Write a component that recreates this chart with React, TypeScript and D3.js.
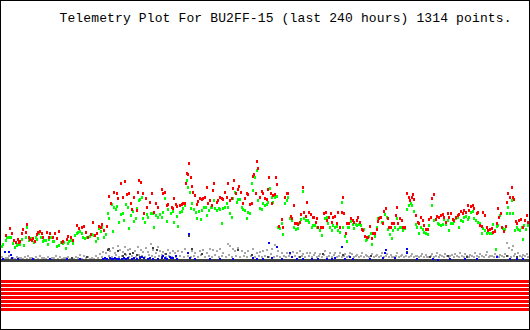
import React from "react";
import * as d3 from "d3";

const W = 530;
const H = 330;

const titleText = "Telemetry Plot For BU2FF-15 (last 240 hours) 1314 points.";

// time slot (0..530 across the 240 hours), value above baseline
const redSeries: [number, number][] = [
  [6,27],[10,34],[12,29],[14,22],[16,20],[18,23],[19,20],[20,21],[22,29],[23,33],[26,30],[27,38],[29,25],[30,23],[32,22],[33,24],[35,21],[37,28],[38,30],[40,31],[42,29],[43,25],[47,30],[49,25],[50,29],[53,25],[55,29],[57,24],[59,31],[62,20],[63,21],[67,23],[68,26],[71,25],[73,22],[77,37],[79,34],[82,35],[84,36],[86,30],[88,25],[91,28],[93,40],[95,27],[97,29],[99,36],[101,35],[102,38],[104,32],[107,36],[109,66],[111,59],[114,70],[117,69],[118,64],[121,79],[123,65],[125,81],[127,68],[129,69],[131,59],[132,53],[134,65],[137,52],[138,70],[139,82],[141,80],[143,69],[144,49],[146,64],[147,55],[150,60],[152,69],[154,50],[156,59],[158,55],[162,73],[163,69],[165,70],[167,57],[168,58],
  [172,55],[173,54],[174,64],[176,58],[177,56],[180,57],[182,58],[183,59],[185,59],[186,79],[187,89],[188,88],[189,99],[191,85],[192,76],[193,70],[195,67],[197,58],[198,61],[200,64],[202,63],[203,64],[205,65],[207,75],[208,59],[210,62],[212,57],[213,72],[214,79],[217,60],[218,62],[220,65],[222,64],[223,63],[225,70],[227,65],[228,79],[230,62],[232,64],[233,74],[234,82],[236,69],[238,73],[239,76],[241,70],[243,59],[245,64],[247,69],[248,68],[250,58],[252,59],[253,86],[254,88],[256,69],[257,101],[258,94],[260,65],[262,71],[263,69],[265,64],[267,63],[268,73],[269,85],[271,69],[272,59],[273,67],[275,68],[276,85],[277,78],[279,36],[282,43],[283,35],[285,65],[287,69],[288,69],[291,46],[292,44],[294,57],[295,39],[297,39],[298,38],[300,40],[301,48],[303,75],[304,50],[306,46],[307,60],[309,50],[311,48],[313,45],[314,45],[316,40],[317,44],[318,35],[321,35],[323,35],[324,49],[326,50],[327,42],[329,45],[331,49],[332,40],[333,45],[335,46],[337,39],[338,50],[340,35],[342,50],[343,65],[344,49],[346,29],[347,39],[349,39],
  [351,44],[353,42],[354,40],[357,42],[358,45],[360,40],[362,33],[363,32],[365,26],[367,25],[368,25],[370,36],[372,24],[373,29],[375,29],[377,33],[378,41],[379,44],[381,45],[383,39],[384,51],[386,54],[388,44],[389,35],[391,35],[392,39],[394,39],[396,47],[397,55],[398,39],[400,44],[402,42],[403,35],[405,35],[407,69],[409,65],[410,62],[412,65],[413,68],[414,63],[416,47],[418,40],[419,39],[421,45],[423,42],[424,37],[426,33],[428,33],[429,43],[431,45],[432,64],[434,68],[436,43],[437,46],[439,45],[441,47],[443,48],[444,45],[446,40],[448,49],[449,45],[451,49],[453,43],[454,42],[456,45],[458,47],[459,48],[461,51],[463,49],[464,52],[466,50],[468,57],[469,52],[471,56],[473,57],[474,54],[477,49],[478,50],[480,37],[482,36],[483,50],[485,47],[487,35],[488,32],[490,33],[492,34],[493,30],[495,31],[497,39],[498,54],[499,45],[501,49],[502,35],[504,31],[506,36],[507,60],[508,69],[510,65],[512,75],[513,65],[514,63],[516,41],[517,39],[519,42],[521,43],[523,35],[525,42],[527,47],[528,40]
];

const greenSeries: [number, number][] = [
  [2,16],[3,18],[6,22],[7,25],[9,25],[11,25],[13,19],[15,15],[17,17],[18,18],[20,18],[22,23],[24,17],[26,25],[27,35],[29,22],[31,24],[33,24],[34,20],[36,25],[37,23],[39,29],[41,25],[43,21],[44,22],[46,22],[48,18],[49,23],[51,25],[53,21],[54,21],[57,16],[59,17],[61,20],[63,19],[64,20],[66,14],[68,19],[69,21],[71,22],[73,19],[75,27],[77,29],[78,30],[80,31],[82,29],[83,25],[85,24],[87,25],[88,25],[90,26],[92,28],[94,27],[96,21],[98,24],[99,34],[101,31],[102,35],[104,25],[106,28],[108,49],[109,44],[112,58],[113,31],[114,55],[116,53],[117,56],[119,40],[121,48],[123,49],[124,42],[126,58],[128,55],[129,34],[131,47],[133,51],[134,41],[136,44],[137,54],[139,62],[140,63],[142,65],[143,44],[145,40],[147,48],[148,45],[151,49],[153,49],[154,35],[156,47],[158,45],[160,48],[162,45],[163,50],[165,64],[167,41],[168,53],
  [171,49],[173,51],[174,40],[177,46],[178,36],[180,50],[182,51],[183,54],[185,57],[187,82],[188,75],[190,70],[191,54],[192,59],[194,53],[196,50],[197,44],[199,51],[201,43],[202,52],[204,55],[206,55],[207,47],[209,52],[211,55],[212,55],[214,62],[215,54],[217,52],[219,54],[220,53],[222,39],[223,54],[225,55],[227,59],[228,55],[230,49],[232,45],[233,64],[235,70],[237,60],[238,63],[240,63],[242,55],[243,53],[245,52],[247,44],[248,50],[250,49],[252,79],[253,72],[255,85],[257,92],[258,62],[260,54],[262,53],[263,59],[265,57],[267,58],[268,60],[270,74],[272,65],[273,60],[275,65],[277,66],[278,35],[280,34],[282,39],[283,28],[285,59],[287,62],[288,65],[290,44],[292,42],[294,35],[296,33],[298,34],[299,39],[301,43],[303,71],[304,44],[306,42],[308,42],[309,40],[312,35],[313,37],[315,37],[317,35],[318,35],[320,32],[322,27],[323,35],[325,44],[327,45],[328,39],[330,35],[332,32],[333,37],[335,35],[337,36],[338,32],[340,30],[342,60],[343,35],[345,26],[347,21],[348,35],[349,35],
  [351,41],[353,38],[354,34],[356,38],[357,37],[359,38],[361,37],[363,32],[364,33],[366,22],[367,23],[369,26],[371,29],[372,18],[373,29],[375,26],[377,35],[378,44],[380,45],[382,40],[383,40],[385,48],[387,45],[388,33],[390,28],[392,24],[393,32],[395,35],[397,44],[398,33],[400,35],[402,35],[403,32],[405,34],[407,53],[409,57],[411,59],[412,57],[414,51],[416,38],[417,35],[419,29],[421,35],[423,33],[424,30],[426,29],[428,28],[429,37],[431,45],[432,57],[434,42],[436,43],[438,39],[439,38],[441,37],[443,38],[444,43],[446,38],[448,42],[449,32],[451,39],[453,39],[454,41],[456,44],[458,45],[459,35],[461,42],[463,41],[464,45],[466,46],[468,43],[469,45],[471,50],[473,51],[474,44],[476,42],[478,40],[480,39],[482,29],[483,34],[485,32],[487,29],[488,30],[490,29],[492,29],[493,38],[495,32],[496,13],[497,36],[498,37],[500,47],[502,35],[503,34],[505,33],[507,49],[508,55],[510,49],[512,62],[513,49],[515,32],[517,35],[518,33],[520,32],[522,35],[523,23],[524,37],[526,33],[528,37]
];

const graySeries: [number, number][] = [
  [2,5],[6,4],[9,6],[13,4],[17,5],[21,4],[25,5],[28,6],[32,4],[36,5],[40,6],[44,4],[48,5],[52,4],[56,6],[60,5],[64,4],[68,5],[72,4],[76,5],[80,7],[84,6],[88,5],[92,4],[96,6],[100,8],[103,10],[106,9],[108,13],[110,11],[113,14],[115,9],[118,16],[120,12],[123,10],[125,15],[128,12],[130,13],[133,9],[135,11],[138,15],[141,12],[143,10],[146,14],[148,10],[151,18],[153,12],[156,9],[158,15],[160,11],[163,10],[165,8],[168,12],[170,9],[173,11],
  [175,9],[178,11],[182,10],[185,13],[192,11],[195,9],[200,11],[203,12],[207,9],[210,13],[213,12],[217,11],[220,13],[223,9],[228,18],[230,16],[233,13],[235,11],[238,14],[242,11],[245,9],[248,11],[253,13],[257,9],[260,10],[263,11],[267,12],[272,13],[275,17],[278,11],[282,9],[287,9],[290,8],[293,10],[297,9],[300,11],[303,8],[307,9],[310,9],[315,9],[320,8],[325,11],[330,9],[335,9],[340,9],[345,8],[350,9],
  [352,8],[357,7],[362,9],[367,6],[372,8],[377,7],[382,9],[387,8],[392,5],[397,9],[402,7],[407,9],[412,8],[417,6],[422,8],[427,5],[432,8],[437,9],[440,7],[445,8],[450,6],[455,8],[460,9],[465,8],[470,7],[475,9],[480,8],[487,10],[490,6],[495,8],[500,7],[505,8],[507,19],[509,14],[512,12],[513,16],[515,8],[518,9],[523,7],[527,8]
];

// lower gray readings hugging the baseline
const grayLowSeries: [number, number][] = [
  [4,3],[8,4],[11,3],[15,3],[19,4],[23,3],[27,3],[30,4],[34,3],[38,3],[42,4],[46,3],[50,3],[54,4],[58,3],[62,3],[66,4],[70,3],[74,3],[78,4],[82,3],[86,4],[90,3],[94,3],[98,4],[102,5],[105,4],[109,6],[112,5],[116,7],[119,5],[122,6],[126,7],[129,5],[132,6],[136,5],[139,7],[142,6],[145,5],[149,7],[152,6],[155,5],[159,6],[162,7],[166,5],[169,6],[172,5],
  [176,5],[180,6],[184,5],[188,6],[191,5],[194,6],[198,5],[201,7],[205,5],[209,6],[212,5],[215,7],[219,5],[222,6],[226,5],[229,7],[232,5],[236,6],[240,5],[244,6],[247,5],[251,6],[255,5],[259,6],[262,5],[265,6],[269,5],[271,8],[274,5],[277,6],[280,5],[284,6],[286,5],[289,6],[292,5],[295,6],[299,5],[302,6],[305,5],[309,6],[312,5],[314,7],[317,5],[319,6],[322,5],[324,7],[327,5],[329,6],[332,5],[334,7],[337,5],[339,6],[342,5],[344,6],[347,5],[349,6],
  [354,5],[356,6],[359,5],[361,6],[364,5],[366,7],[369,5],[371,6],[374,5],[376,6],[379,5],[381,6],[384,5],[386,6],[389,5],[391,7],[394,5],[396,6],[399,5],[401,6],[404,5],[406,6],[409,5],[411,6],[414,5],[416,6],[419,5],[421,6],[424,5],[426,7],[429,5],[431,6],[434,5],[436,6],[439,5],[442,6],[444,5],[447,6],[449,5],[452,7],[454,5],[457,6],[459,5],[462,6],[464,5],[467,6],[469,5],[472,6],[474,5],[477,6],[479,5],[482,6],[484,5],[486,7],[489,5],[492,6],[494,5],[497,6],[499,5],[502,6],[504,5],[508,6],[511,5],[514,6],[517,5],[520,6],[522,5],[525,6],[528,5]
];

const darkSeries: [number, number][] = [
  [72,4],[87,5],[108,12],[109,13],[118,11],[123,6],[125,8],[130,8],[133,9],[137,7],[140,5],[153,14],[157,12],[162,5],[166,8],
  [189,26],[192,13],[202,8],[238,12],[252,7],[268,5],[300,5],[323,8],[343,7],
  [371,6],[407,10],[430,5],[448,6],[467,5],[507,6],[517,5]
];

const blueSeries: [number, number][] = [
  [3,3],[5,10],[9,10],[11,7],[12,4],[18,3],[33,3],[50,3],[67,3],[80,3],[103,3],[105,4],[107,3],[110,4],[112,3],[113,3],[115,4],[117,3],[119,3],[122,3],[124,4],[126,3],[128,4],[132,3],[134,4],[137,3],[140,4],[142,5],[144,4],[148,3],[150,4],[153,3],[158,3],[162,4],[163,6],[165,4],[167,3],[170,5],[171,4],[173,4],[176,6],
  [177,3],[188,9],[189,28],[190,4],[195,3],[210,3],[220,3],[233,3],[253,4],[257,3],[263,3],[269,19],[272,4],[277,15],[282,3],[290,9],[292,5],[297,3],[303,3],[312,3],[318,3],[327,3],[332,3],[335,4],[342,15],[345,3],[350,5],
  [353,3],[370,3],[383,4],[385,9],[386,12],[395,4],[407,13],[407,9],[417,3],[433,3],[438,2],[450,3],[465,3],[477,3],[497,5],[510,3],[517,3],[523,3]
];

// eight status channels shown as bars under the plot (all active)
const statusBits = [1, 1, 1, 1, 1, 1, 1, 1];

export default function App() {
  const x = d3.scaleLinear().domain([0, 530]).range([0, 530]);
  const y = d3.scaleLinear().domain([0, 262]).range([262, 0]);
  const band = d3
    .scaleBand<number>()
    .domain(statusBits.map((_, i) => i))
    .range([280, 312])
    .paddingInner(0.25)
    .paddingOuter(0.125)
    .align(0);

  const mark = (data: [number, number][], color: string, w: number, h: number, key: string) =>
    data.map(([t, v], i) => (
      <rect
        key={key + i}
        x={Math.round(x(t)) - Math.floor(w / 2)}
        y={Math.round(y(v)) - Math.floor(h / 2)}
        width={w}
        height={h}
        fill={color}
      />
    ));

  return (
    <svg
      width={W}
      height={H}
      style={{ position: "fixed", left: 0, top: 0, background: "#fff" }}
      shapeRendering="crispEdges"
    >
      <rect x={0} y={0} width={W} height={H} fill="#fff" />
      <text
        x={59.5}
        y={22}
        fontFamily="'Liberation Mono', 'DejaVu Sans Mono', monospace"
        fontSize={13}
        textLength={452}
        lengthAdjust="spacing"
        fill="#000"
      >
        {titleText}
      </text>
      {mark(grayLowSeries, "#a8a8a8", 2, 2, "gl")}
      {mark(graySeries, "#a8a8a8", 2, 2, "g")}
      <rect x={1} y={y(3)} width={528} height={y(0) - y(3)} fill="#404040" />
      {mark(darkSeries, "#404040", 2, 2, "d")}
      {mark(blueSeries, "#0000ff", 2, 2, "b")}
      {mark(greenSeries, "#00ff00", 2, 3, "gr")}
      {mark(redSeries, "#ff0000", 2, 3, "r")}
      {statusBits.map((b, i) => (
        <rect
          key={"s" + i}
          x={1}
          y={band(i)}
          width={528}
          height={band.bandwidth()}
          fill={b ? "#ff0000" : "#ffffff"}
        />
      ))}
      <rect x={0.5} y={0.5} width={W - 1} height={H - 1} fill="none" stroke="#000" strokeWidth={1} />
    </svg>
  );
}
